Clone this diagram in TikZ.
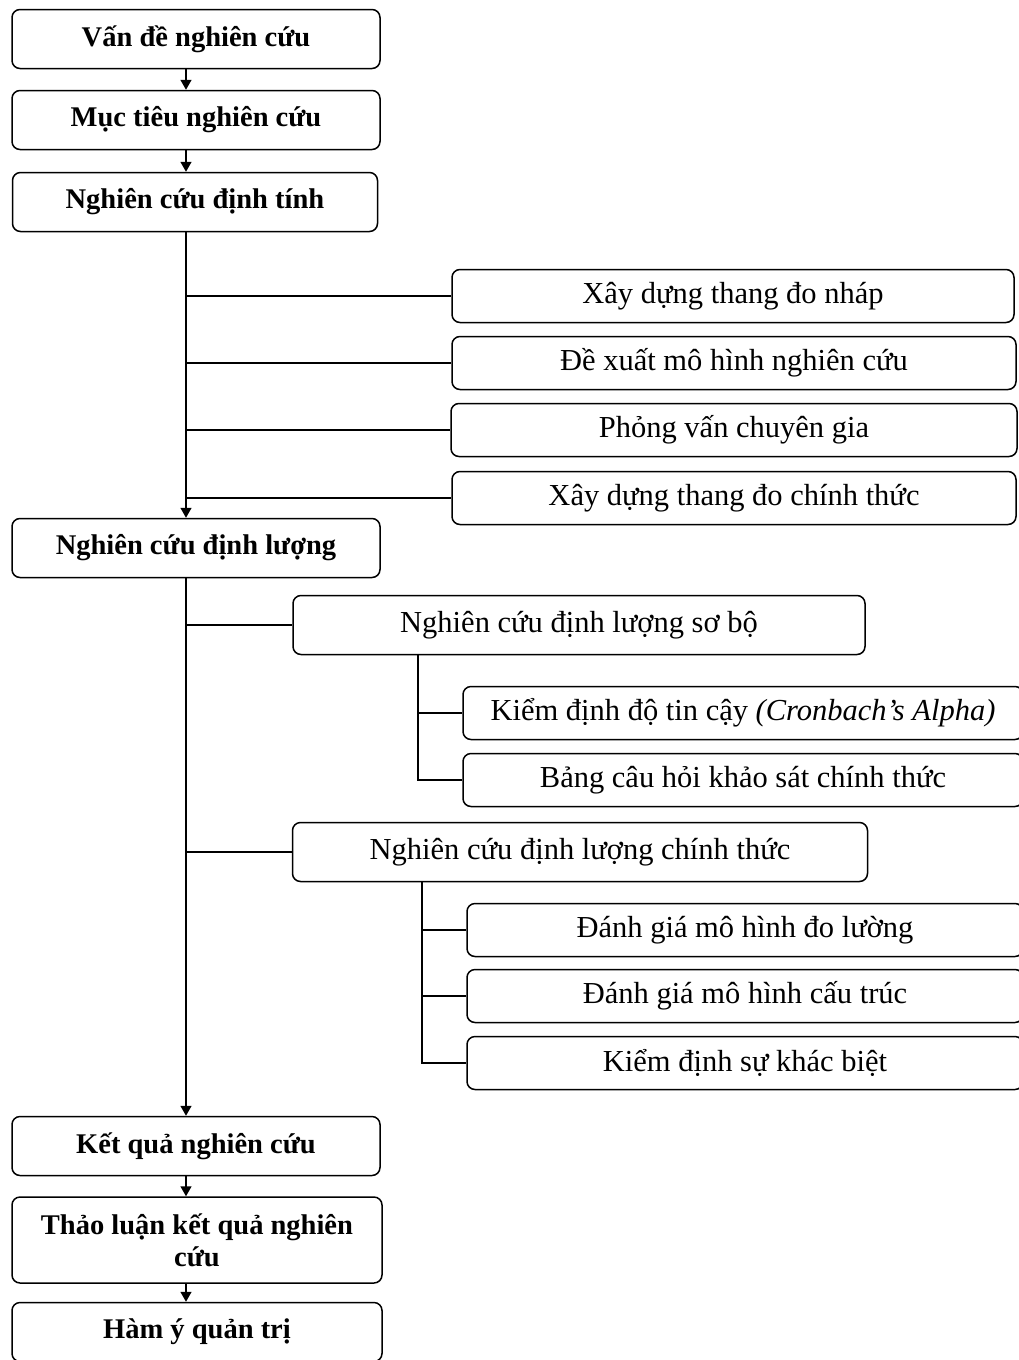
\documentclass[tikz,border=0pt]{standalone}
\usepackage{fontspec}
\setmainfont{Liberation Serif}
\usetikzlibrary{arrows.meta}

\begin{document}
\begin{tikzpicture}[x=1pt,y=-1pt,
    mainbox/.style={draw, rounded corners=8pt, line width=1.5pt, minimum width=368pt, minimum height=59pt, font=\bfseries\fontsize{28.5}{32}\selectfont, align=center},
    subbox/.style={draw, rounded corners=8pt, line width=1.5pt, minimum height=53pt, font=\fontsize{30.5}{34}\selectfont},
    link/.style={line width=1.5pt},
    flow/.style={line width=1.5pt, -{Triangle[length=10pt,width=11pt]}}]
    \useasboundingbox (0,0) rectangle (1019,1360);
    \fill[white] (0,0) rectangle (1019,1360);
    \coordinate (spine) at (186,0);

    % left column
    \node[mainbox] (vande) at (196,39) {Vấn đề nghiên cứu};
    \node[mainbox] (muctieu) at (196,120) {Mục tiêu nghiên cứu};
    \node[mainbox, minimum width=365pt] (dinhtinh) at (195,202) {Nghiên cứu định tính};
    \node[mainbox] (dinhluong) at (196,548) {Nghiên cứu định lượng};
    \node[mainbox] (ketqua) at (196,1146) {Kết quả nghiên cứu};
    \node[mainbox, minimum width=370pt, minimum height=86pt] (thaoluan) at (197,1240) {Thảo luận kết quả nghiên\\cứu};
    \node[mainbox, minimum width=370pt] (hamy) at (197,1332) {Hàm ý quản trị};

    % qualitative steps
    \node[subbox, minimum width=562pt] (thangnhap) at (733,296) {Xây dựng thang đo nháp};
    \node[subbox, minimum width=564pt] (mohinh) at (734,363) {Đề xuất mô hình nghiên cứu};
    \node[subbox, minimum width=566pt] (chuyengia) at (734,430) {Phỏng vấn chuyên gia};
    \node[subbox, minimum width=564pt] (chinhthuc) at (734,498) {Xây dựng thang đo chính thức};

    % quantitative steps
    \node[subbox, minimum width=572pt, minimum height=59pt] (sobo) at (579,625) {Nghiên cứu định lượng sơ bộ};
    \node[subbox, minimum width=560pt] (kiemdinh) at (743,713) {Kiểm định độ tin cậy \textit{(Cronbach’s Alpha)}};
    \node[subbox, minimum width=560pt] (bangcauhoi) at (743,780) {Bảng câu hỏi khảo sát chính thức};
    \node[subbox, minimum width=575pt, minimum height=59pt] (dlchinhthuc) at (580,852) {Nghiên cứu định lượng chính thức};
    \node[subbox, minimum width=556pt] (doluong) at (745,930) {Đánh giá mô hình đo lường};
    \node[subbox, minimum width=556pt] (cautruc) at (745,996) {Đánh giá mô hình cấu trúc};
    \node[subbox, minimum width=556pt] (khacbiet) at (745,1063) {Kiểm định sự khác biệt};

    % main flow
    \draw[flow] (vande.south -| spine) -- (muctieu.north -| spine);
    \draw[flow] (muctieu.south -| spine) -- (dinhtinh.north -| spine);
    \draw[flow] (dinhtinh.south -| spine) -- (dinhluong.north -| spine);
    \draw[flow] (dinhluong.south -| spine) -- (ketqua.north -| spine);
    \draw[flow] (ketqua.south -| spine) -- (thaoluan.north -| spine);
    \draw[flow] (thaoluan.south -| spine) -- (hamy.north -| spine);

    % branches
    \foreach \b in {thangnhap, mohinh, chuyengia, chinhthuc, sobo, dlchinhthuc}
      \draw[link] (spine |- \b.west) -- (\b.west);
    \draw[link] (418,655) |- (kiemdinh.west);
    \draw[link] (418,655) |- (bangcauhoi.west);
    \draw[link] (422,882) |- (doluong.west);
    \draw[link] (422,882) |- (cautruc.west);
    \draw[link] (422,882) |- (khacbiet.west);
\end{tikzpicture}
\end{document}
